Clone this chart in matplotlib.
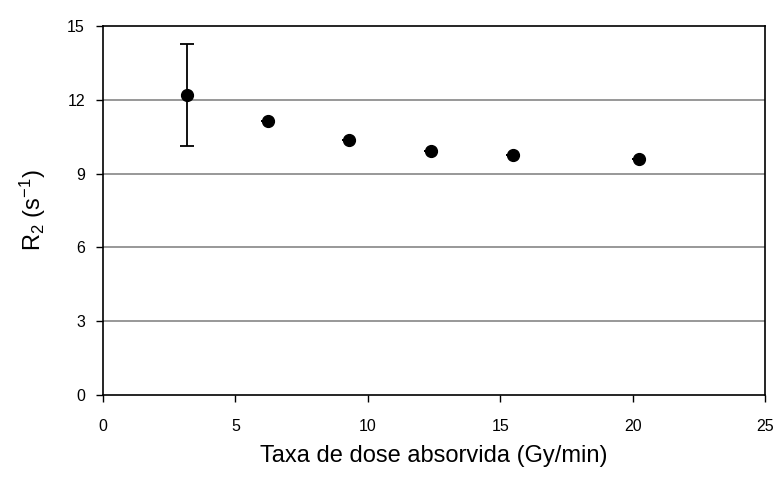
import matplotlib
matplotlib.use("Agg")
import matplotlib.pyplot as plt

plt.rcParams['font.family'] = ['Liberation Sans', 'DejaVu Sans']
plt.rcParams['mathtext.fontset'] = 'custom'
plt.rcParams['mathtext.rm'] = 'Liberation Sans'
plt.rcParams['mathtext.it'] = 'Liberation Sans:italic'

dose_rate = [3.17, 6.23, 9.29, 12.39, 15.48, 20.24]
r2 = [12.2, 11.14, 10.37, 9.92, 9.76, 9.59]
r2_err = [2.08, 0.0, 0.0, 0.0, 0.0, 0.0]
x_ticks = [0, 5, 10, 15, 20, 25]
y_ticks = [0, 3, 6, 9, 12, 15]

fig = plt.figure(figsize=(7.76, 4.87), dpi=100)
ax = fig.add_axes([0.1327, 0.1889, 0.8531, 0.7577])

for yv in y_ticks[1:-1]:
    ax.axhline(yv, color='#909090', lw=1.3, zorder=1)

ax.errorbar(dose_rate, r2, yerr=r2_err, fmt='o', color='black', ms=8.5,
            ecolor='black', elinewidth=1.3, capsize=5, capthick=1.3, zorder=3)

ax.set_xlim(0, 25)
ax.set_ylim(0, 15)
ax.set_xticks(x_ticks)
ax.set_yticks(y_ticks)
for s in ax.spines.values():
    s.set_color('black')
    s.set_linewidth(1.2)
ax.tick_params(axis='x', direction='out', length=5, width=1, labelsize=11.5, pad=12)
ax.tick_params(axis='y', direction='out', length=5, width=1, labelsize=11.5, pad=8)

ax.set_xlabel('Taxa de dose absorvida (Gy/min)', fontsize=17, labelpad=8)
ax.set_ylabel(r'$\mathregular{R_2\ (s^{-1})}$', fontsize=17, labelpad=14)

fig.savefig('out.png', dpi=100)
